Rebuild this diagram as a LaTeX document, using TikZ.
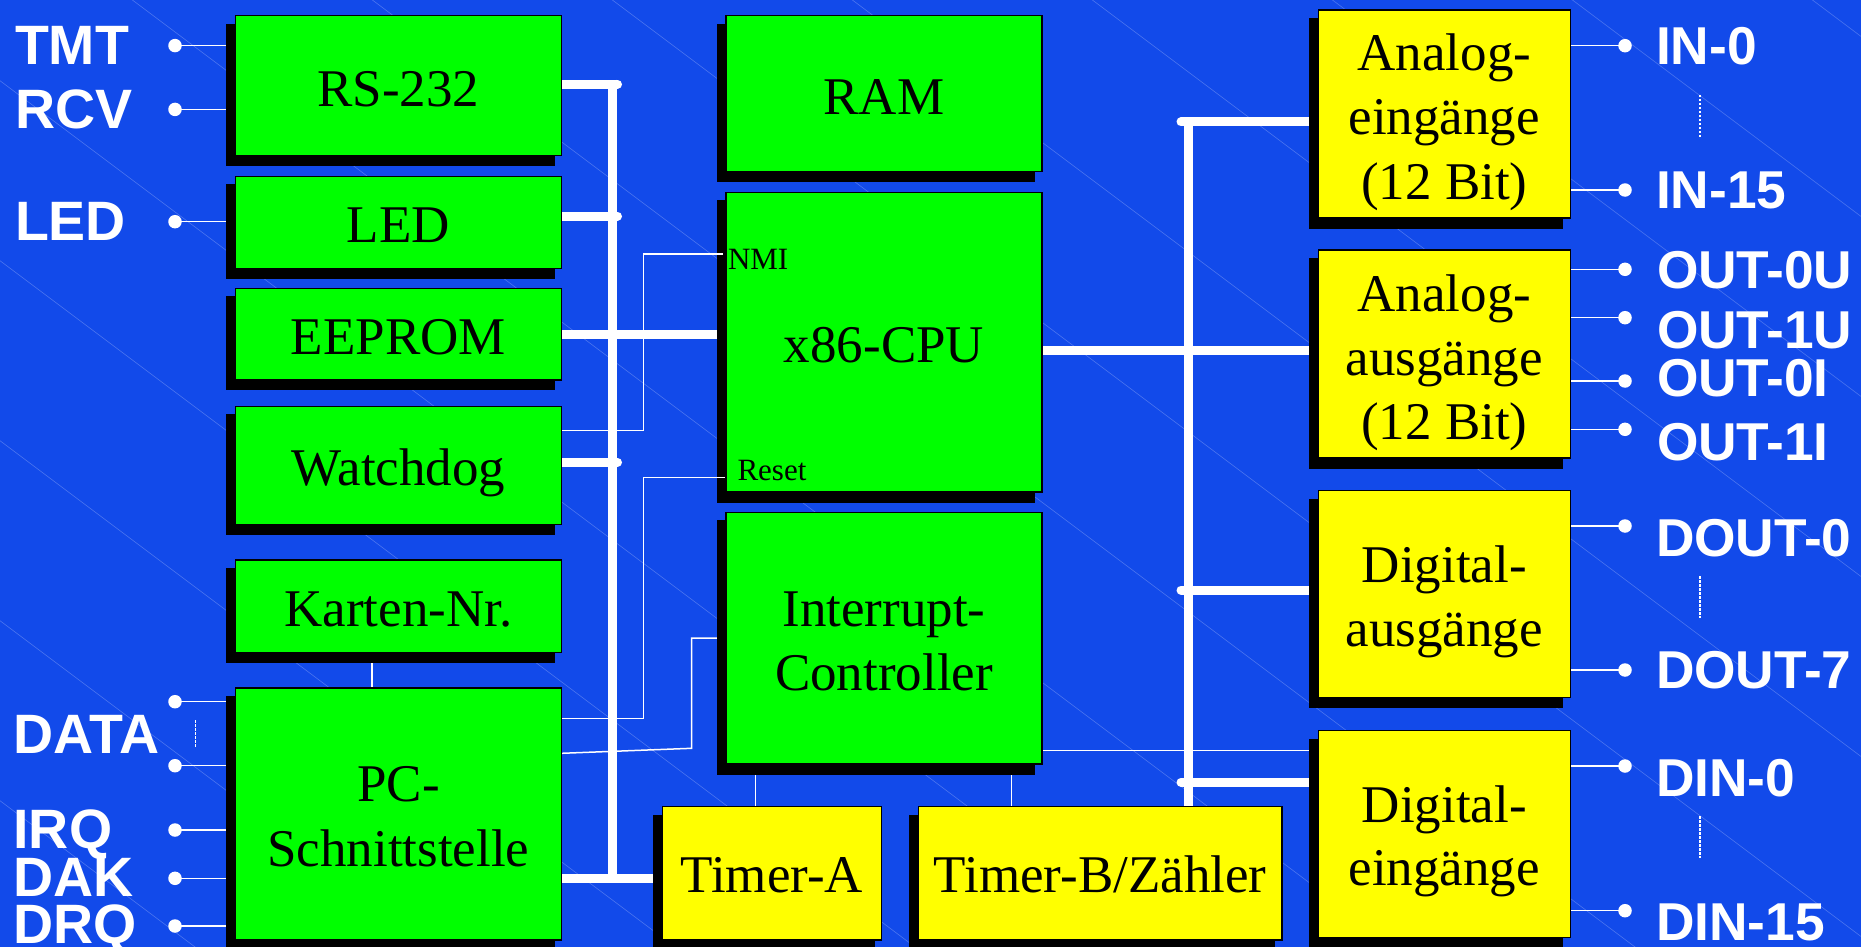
\documentclass[tikz,border=0pt]{standalone}
\usepackage{fontspec}
\setmainfont{Liberation Serif}
\newfontfamily\lblfont{Liberation Sans}
\usetikzlibrary{calc,fit}
\definecolor{bgblue}{RGB}{18,74,234}
\definecolor{boxgreen}{RGB}{0,255,0}
\definecolor{boxyellow}{RGB}{255,255,0}
\pgfdeclarelayer{bg}
\pgfdeclarelayer{wires}
\pgfdeclarelayer{shad}
\pgfdeclarelayer{wirestop}
\pgfsetlayers{bg,wires,shad,wirestop,main}
\tikzset{
  gbox/.style={draw=black, line width=1.2pt, fill=boxgreen, inner sep=0pt, outer sep=0pt},
  ybox/.style={draw=black, line width=1.2pt, fill=boxyellow, inner sep=0pt, outer sep=0pt},
  btxt/.style={inner sep=0pt, outer sep=0pt, font=\fontsize{53}{64}\selectfont, anchor=base},
  stxt/.style={inner sep=0pt, outer sep=0pt, font=\fontsize{31}{36}\selectfont, anchor=base west},
  lbl/.style={inner sep=0pt, outer sep=0pt, text=white, font=\lblfont\bfseries\fontsize{55.5}{60}\selectfont, anchor=base west},
  rlbl/.style={inner sep=0pt, outer sep=0pt, text=white, font=\lblfont\bfseries\fontsize{53.3}{60}\selectfont, anchor=base west},
  pin/.style={circle, fill=white, inner sep=0pt, outer sep=0pt, minimum size=13.5pt},
  thickw/.style={draw=white, line width=9pt},
  stubw/.style={draw=white, line width=9pt, line cap=round},
  thinw/.style={draw=white, line width=1.5pt},
  dotw/.style={draw=white, line width=1.2pt, dash pattern=on 2.5pt off 1.5pt},
  diag/.style={draw=white!24!bgblue, line width=0.6pt},
}
\newcommand\mybx[6]{%
  \coordinate (#1-a) at (#3,#4);
  \coordinate (#1-b) at (#5,#6);
  \node[#2, fit=(#1-a)(#1-b)] (#1) {};
  \begin{pgfonlayer}{shad}
    \fill[black] ($(#1.north west)+(-9.5,8)$) rectangle ($(#1.south east)+(-7,10.5)$);
  \end{pgfonlayer}}
\begin{document}
\begin{tikzpicture}[x=1pt,y=-1pt]
\useasboundingbox (0,0) rectangle (1861,947);
\begin{pgfonlayer}{bg}
  \fill[bgblue] (0,0) rectangle (1861,947);
  \foreach \k in {-9,...,5} {
    \draw[diag] (0,80.7+180*\k) -- (1861,80.7+180*\k+1395.75);
  }
\end{pgfonlayer}

% boxes
\mybx{rs}{gbox}{235.3}{15.8}{561.6}{155.7}
\mybx{led}{gbox}{235.3}{176.4}{561.6}{268.3}
\mybx{ee}{gbox}{235.3}{288.3}{561.6}{379.9}
\mybx{wd}{gbox}{235.3}{406.2}{561.6}{524.4}
\mybx{kn}{gbox}{235.3}{560}{561.6}{652.3}
\mybx{pc}{gbox}{235.3}{688}{561.6}{940}
\mybx{ram}{gbox}{726}{15.8}{1042}{171.9}
\mybx{cpu}{gbox}{726}{192.2}{1042}{492}
\mybx{ic}{gbox}{726}{512.3}{1042}{764}
\mybx{ta}{ybox}{662.2}{806.7}{881.6}{940}
\mybx{tb}{ybox}{918.4}{806.7}{1282}{940}
\mybx{ae}{ybox}{1318.3}{10}{1570.3}{218}
\mybx{aa}{ybox}{1318.3}{250}{1570.3}{458}
\mybx{da}{ybox}{1318.3}{490.7}{1570.3}{697.7}
\mybx{de}{ybox}{1318.3}{730.7}{1570.3}{937.3}

% box texts
\node[btxt] (rs-t) at (398.45,107) {RS-232};
\node[btxt] (led-t) at (398.45,242) {LED};
\node[btxt] (ee-t) at (398.45,354) {EEPROM};
\node[btxt] (wd-t) at (398.45,485) {Watchdog};
\node[btxt] (kn-t) at (398.45,626.7) {Karten-Nr.};
\node[btxt] (pc-t1) at (398.45,801.7) {PC-};
\node[btxt] (pc-t2) at (398.45,866.7) {Schnittstelle};
\node[btxt] (ram-t) at (884,114.7) {RAM};
\node[btxt] (cpu-t) at (884,362.3) {x86-CPU};
\node[btxt] (ic-t1) at (884,626.7) {Interrupt-};
\node[btxt] (ic-t2) at (884,690) {Controller};
\node[btxt] (ta-t) at (771.9,892.3) {Timer-A};
\node[btxt] (tb-t) at (1100.2,892.3) {Timer-B/Zähler};
\node[btxt] (ae-t1) at (1444.3,71) {Analog-};
\node[btxt] (ae-t2) at (1444.3,135) {eingänge};
\node[btxt] (ae-t3) at (1444.3,199) {(12 Bit)};
\node[btxt] (aa-t1) at (1444.3,311) {Analog-};
\node[btxt] (aa-t2) at (1444.3,375) {ausgänge};
\node[btxt] (aa-t3) at (1444.3,439) {(12 Bit)};
\node[btxt] (da-t1) at (1444.3,582.7) {Digital-};
\node[btxt] (da-t2) at (1444.3,646.7) {ausgänge};
\node[btxt] (de-t1) at (1444.3,822.7) {Digital-};
\node[btxt] (de-t2) at (1444.3,885) {eingänge};
\node[stxt] (nmi) at (728,269.4) {NMI};
\node[stxt] (rst) at (737.5,480.5) {Reset};

% reference coordinates
\coordinate (lbT) at (612,79.7);
\coordinate (lbB) at (612,882.8);
\coordinate (sRS) at (617.5,84.2);
\coordinate (sLED) at (617.5,216);
\coordinate (sWD) at (617.5,462.3);
\coordinate (yEE) at (0,334);
\coordinate (yPC) at (0,878.3);
\coordinate (rbT) at (1188,117.5);
\coordinate (sAE) at (1181,122);
\coordinate (sDA) at (1181,590);
\coordinate (sDE) at (1181,782.3);
\coordinate (yCPU) at (0,350);
\coordinate (nmiA) at (643.3,253.9);
\coordinate (nmiB) at (643.3,430.5);
\coordinate (rstA) at (643.5,477.5);
\coordinate (rstB) at (643.5,718.3);
\coordinate (irqA) at (691.7,638);
\coordinate (irqB) at (691.7,748.3);
\coordinate (irqC) at (0,753.3);
\coordinate (xTA) at (755.6,0);
\coordinate (xTB) at (1011.7,0);
\coordinate (xKN) at (372,0);
\coordinate (yIDE) at (0,750.4);

\begin{pgfonlayer}{wires}
  % left bus
  \draw[thickw] (lbT) -- (lbB);
  \draw[stubw] (rs.east |- sRS) -- (sRS);
  \draw[stubw] (led.east |- sLED) -- (sLED);
  \draw[stubw] (wd.east |- sWD) -- (sWD);
  \draw[thickw] (ee.east |- yEE) -- (cpu.west |- yEE);
  \draw[thickw] (pc.east |- yPC) -- (ta.west |- yPC);
  % right bus
  \draw[thickw] (rbT) -- (rbT |- tb.north);
  \draw[stubw] (sAE) -- (ae.west |- sAE);
  \draw[stubw] (sDA) -- (da.west |- sDA);
  \draw[stubw] (sDE) -- (de.west |- sDE);
  \draw[thickw] (cpu.east |- yCPU) -- (aa.west |- yCPU);
  % thin connectors
  \draw[thinw] (ic.west |- irqA) -- (irqA) -- (irqB) -- (pc.east |- irqC);
  \draw[thinw] (ic.south -| xTA) -- (ta.north -| xTA);
  \draw[thinw] (ic.south -| xTB) -- (tb.north -| xTB);
  \draw[thinw] (kn.south -| xKN) -- (pc.north -| xKN);
  \draw[thinw] (ic.east |- yIDE) -- (de.west |- yIDE);
\end{pgfonlayer}
\begin{pgfonlayer}{wirestop}
  \draw[thinw] ($(cpu.west |- nmiA)+(-3,0)$) -- (nmiA) -- (nmiB) -- (wd.east |- nmiB);
  \draw[thinw] (cpu.west |- rstA) -- (rstA) -- (rstB) -- (pc.east |- rstB);
\end{pgfonlayer}

% left pins
\foreach \n/\y/\b in {tmt/45.6/rs, rcv/109.4/rs, ledp/221.7/led, dat1/701.7/pc, dat2/765.7/pc, irq/830/pc, dak/878.3/pc, drq/926/pc} {
  \node[pin] (p-\n) at (175,\y) {};
  \begin{pgfonlayer}{wires}
    \draw[thinw] (p-\n.center) -- (\b.west |- p-\n.center);
  \end{pgfonlayer}
}
% right pins
\foreach \n/\y/\b in {in0/45.7/ae, in15/190/ae, o0u/269.3/aa, o1u/317.7/aa, o0i/381/aa, o1i/429.3/aa, d0/526/da, d7/670/da, di0/766/de, di15/910.7/de} {
  \node[pin] (p-\n) at (1625,\y) {};
  \begin{pgfonlayer}{wires}
    \draw[thinw] (\b.east |- p-\n.center) -- (p-\n.center);
  \end{pgfonlayer}
}
% dotted continuation marks
\coordinate (dvA1) at (1700,95);   \coordinate (dvA2) at (1700,138);
\coordinate (dvB1) at (1700,576);  \coordinate (dvB2) at (1700,618.3);
\coordinate (dvC1) at (1700,816);  \coordinate (dvC2) at (1700,858.3);
\coordinate (dvD1) at (195.2,720); \coordinate (dvD2) at (195.2,746.7);
\draw[dotw] (dvA1) -- (dvA2);
\draw[dotw] (dvB1) -- (dvB2);
\draw[dotw] (dvC1) -- (dvC2);
\draw[dotw] (dvD1) -- (dvD2);

% labels
\node[lbl] (l-tmt) at (15,64.9) {TMT};
\node[lbl] (l-rcv) at (15,129) {RCV};
\node[lbl] (l-led) at (15,240.3) {LED};
\node[lbl] (l-data) at (13.5,753.3) {DATA};
\node[lbl] (l-irq) at (13.5,848.3) {IRQ};
\node[lbl] (l-dak) at (13.5,896.7) {DAK};
\node[lbl] (l-drq) at (13.5,943) {DRQ};
\node[rlbl] (l-in0) at (1656,65) {IN-0};
\node[rlbl] (l-in15) at (1656,208.3) {IN-15};
\node[rlbl] (l-o0u) at (1657,288.3) {OUT-0U};
\node[rlbl] (l-o1u) at (1657,348.3) {OUT-1U};
\node[rlbl] (l-o0i) at (1657,396.7) {OUT-0I};
\node[rlbl] (l-o1i) at (1657,460) {OUT-1I};
\node[rlbl] (l-d0) at (1656,556.7) {DOUT-0};
\node[rlbl] (l-d7) at (1656,688.3) {DOUT-7};
\node[rlbl] (l-di0) at (1656,796.7) {DIN-0};
\node[rlbl] (l-di15) at (1656,940) {DIN-15};
\end{tikzpicture}
\end{document}
